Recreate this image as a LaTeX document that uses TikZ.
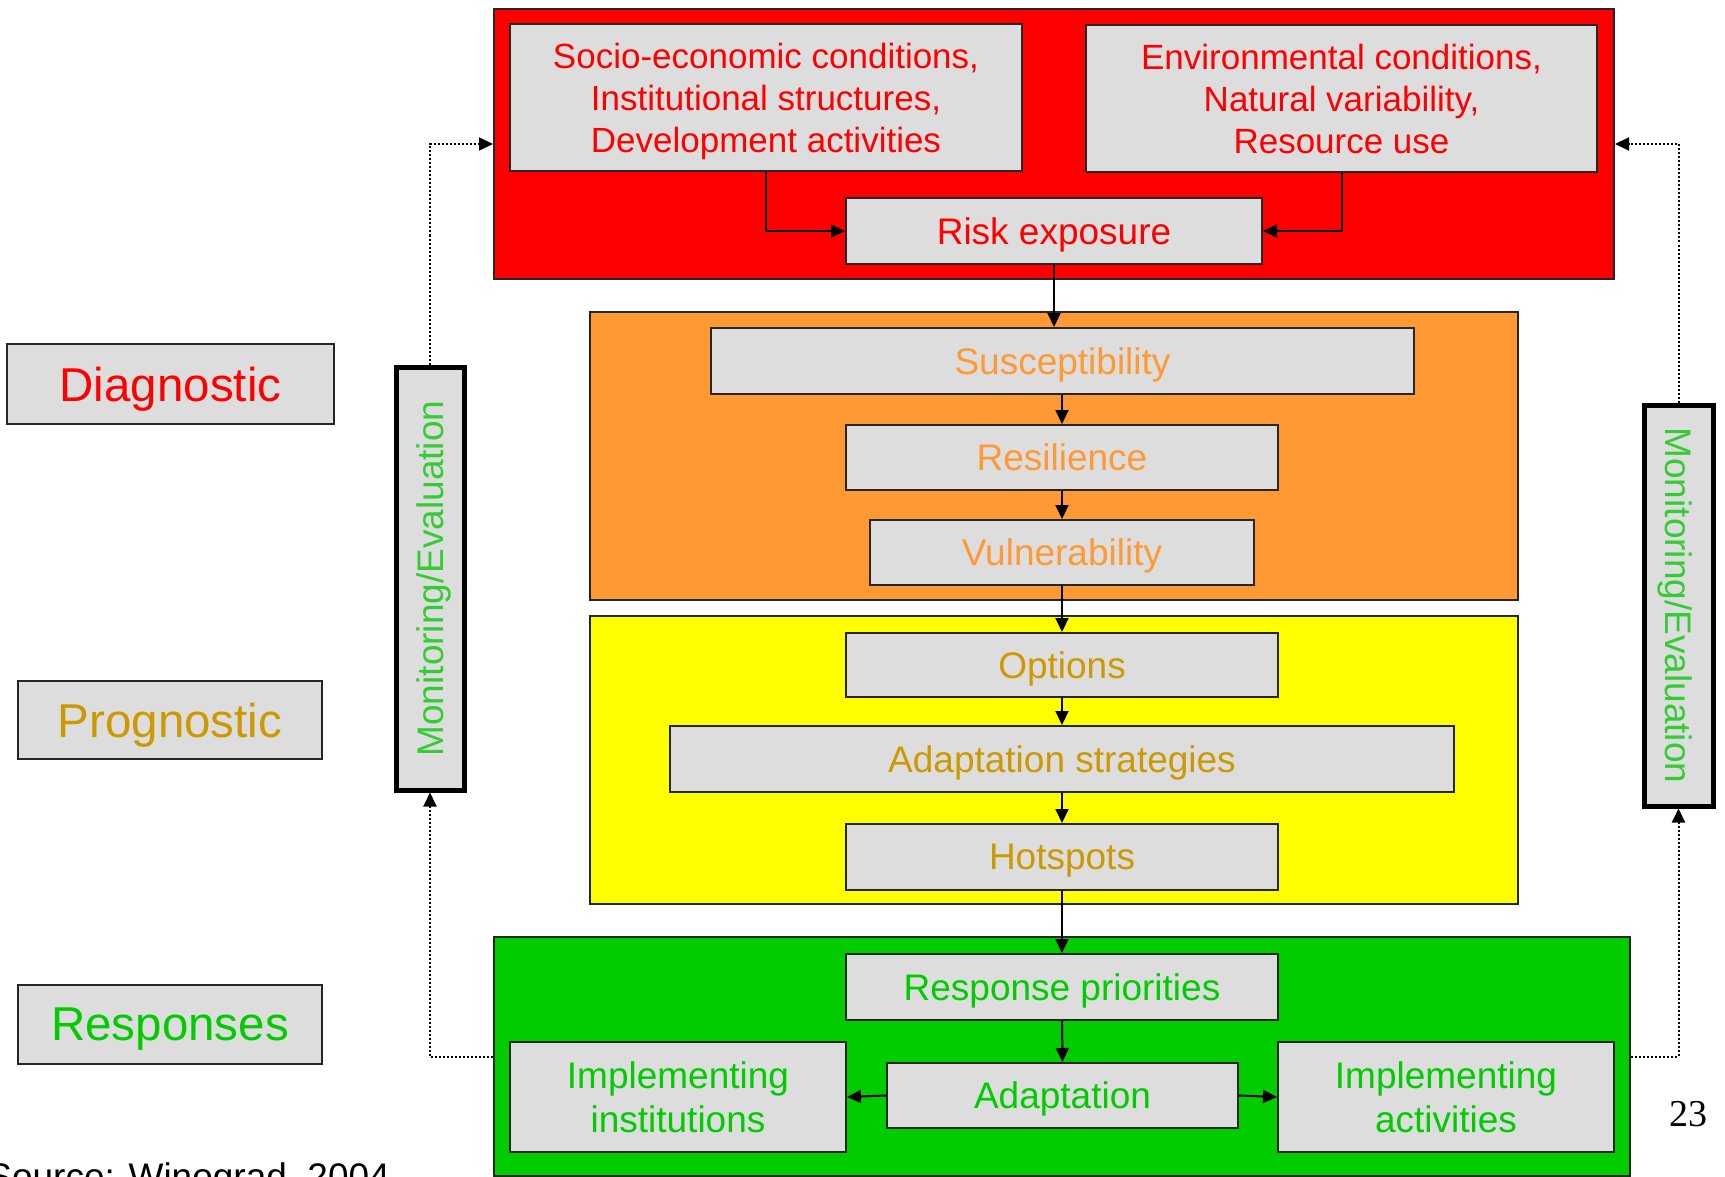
\documentclass[tikz,border=0pt]{standalone}
\usepackage{fontspec}
\setmainfont{Liberation Sans}
\newfontfamily\serifnum{Liberation Serif}
\usetikzlibrary{arrows.meta}

\definecolor{panelred}{HTML}{FF0000}
\definecolor{panelorange}{HTML}{FF9933}
\definecolor{panelyellow}{HTML}{FFFF00}
\definecolor{panelgreen}{HTML}{00CC00}
\definecolor{boxgray}{HTML}{DDDDDD}
\definecolor{txtred}{HTML}{FF0000}
\definecolor{txtorange}{HTML}{FF9933}
\definecolor{txtgold}{HTML}{CC9900}
\definecolor{txtgreen}{HTML}{00CC00}
\definecolor{txtmon}{HTML}{33CC33}

\tikzset{
  panel/.style={draw=black!85, line width=1pt, inner sep=0pt},
  box/.style={draw=black!85, line width=1pt, fill=boxgray, inner sep=0pt,
    text depth=0pt, align=center, font=\fontsize{18.5}{22}\selectfont},
  bigbox/.style={box, font=\fontsize{17.5}{21}\selectfont},
  phase/.style={draw=black!85, line width=1pt, fill=boxgray, inner sep=0pt,
    text depth=0pt, font=\fontsize{23.75}{28}\selectfont},
  monbox/.style={draw=black, line width=2.5pt, fill=boxgray, inner sep=0pt,
    text depth=0pt, text=txtmon, font=\fontsize{18.5}{22}\selectfont},
  flow/.style={draw=black, line width=1pt, -{Triangle[length=7pt,width=6.5pt]}},
  feedback/.style={draw=black, line width=1pt, dash pattern=on 1pt off 1pt,
    -{Triangle[length=7pt,width=6.5pt]}}
}

\begin{document}
\begin{tikzpicture}[x=0.5pt, y=-0.5pt]
\useasboundingbox (0,0) rectangle (1725,1177);

% coloured stage panels
\node[panel, fill=panelred, minimum width=560pt, minimum height=135pt] (red) at (1054,144) {};
\node[panel, fill=panelorange, minimum width=464pt, minimum height=144pt] (orange) at (1054,456) {};
\node[panel, fill=panelyellow, minimum width=464pt, minimum height=144pt] (yellow) at (1054,760) {};
\node[panel, fill=panelgreen, minimum width=568pt, minimum height=119.5pt] (green) at (1062,1056.5) {};

% diagnostic stage
\node[bigbox, text=txtred, minimum width=256pt, minimum height=73.5pt] (socio) at (766,97.5)
  {Socio-economic conditions,\\Institutional structures,\\Development activities};
\node[bigbox, text=txtred, minimum width=255.5pt, minimum height=73.5pt] (env) at (1341.5,99)
  {Environmental conditions,\\Natural variability,\\Resource use};
\node[box, text=txtred, minimum width=208pt, minimum height=33pt] (risk) at (1054,231) {Risk exposure};

\node[box, text=txtorange, minimum width=351.5pt, minimum height=33pt] (susc) at (1062.5,361) {Susceptibility};
\node[box, text=txtorange, minimum width=216pt, minimum height=32.5pt] (resil) at (1062,457.5) {Resilience};
\node[box, text=txtorange, minimum width=192pt, minimum height=32.5pt] (vuln) at (1062,552.5) {Vulnerability};

% prognostic stage
\node[box, text=txtgold, minimum width=216pt, minimum height=32pt] (opts) at (1062,665) {Options};
\node[box, text=txtgold, minimum width=392pt, minimum height=33pt] (strat) at (1062,759) {Adaptation strategies};
\node[box, text=txtgold, minimum width=216pt, minimum height=33pt] (hot) at (1062,857) {Hotspots};

% responses stage
\node[box, text=txtgreen, minimum width=216pt, minimum height=33pt] (prio) at (1062,987) {Response priorities};
\node[box, text=txtgreen, minimum width=168pt, minimum height=55pt] (inst) at (678,1097) {Implementing\\institutions};
\node[box, text=txtgreen, minimum width=175.5pt, minimum height=32.5pt] (adapt) at (1062.5,1095.5) {Adaptation};
\node[box, text=txtgreen, minimum width=168pt, minimum height=55pt] (act) at (1446,1097) {Implementing\\activities};

% stage labels
\node[phase, text=txtred, minimum width=163.5pt, minimum height=40pt] (diag) at (170.5,384) {Diagnostic};
\node[phase, text=txtgold, minimum width=152pt, minimum height=39pt] (prog) at (170,720) {Prognostic};
\node[phase, text=txtgreen, minimum width=152pt, minimum height=39.5pt] (resp) at (170,1024.5) {Responses};

% monitoring boxes (rotated: left reads upwards, right reads downwards)
\node[monbox, rotate=90, minimum width=211.5pt, minimum height=34pt] (monl) at (430,578.5) {Monitoring/Evaluation};
\node[monbox, rotate=-90, minimum width=200.5pt, minimum height=34.5pt] (monr) at (1678.5,605.5) {Monitoring/Evaluation};

% main flow
\draw[flow] (socio.south) |- (risk.west);
\draw[flow] (env.south) |- (risk.east);
\draw[flow] (risk.south) -- (risk.south |- susc.north);
\draw[flow] (susc.south -| resil.north) -- (resil.north);
\draw[flow] (resil.south) -- (vuln.north);
\draw[flow] (vuln.south) -- (opts.north);
\draw[flow] (opts.south) -- (strat.north);
\draw[flow] (strat.south) -- (hot.north);
\draw[flow] (hot.south) -- (prio.north);
\draw[flow] (prio.south) -- (adapt.north);
\draw[flow] (adapt.west) -- (inst.east);
\draw[flow] (adapt.east) -- (act.west);

% monitoring feedback loops
\draw[feedback] (monl.east) |- (red.west);
\draw[feedback] (green.west) -| (monl.west);
\draw[feedback] (monr.west) |- (red.east);
\draw[feedback] (green.east) -| (monr.east);

% page number and source
\node[font=\serifnum\fontsize{19}{22}\selectfont, inner sep=0pt] (pnum) at (1688,1114) {23};
\node[anchor=base west, inner sep=0pt, font=\fontsize{18.5}{22}\selectfont] (src) at (-13,1189.5) {Source: Winograd, 2004};
\end{tikzpicture}
\end{document}
